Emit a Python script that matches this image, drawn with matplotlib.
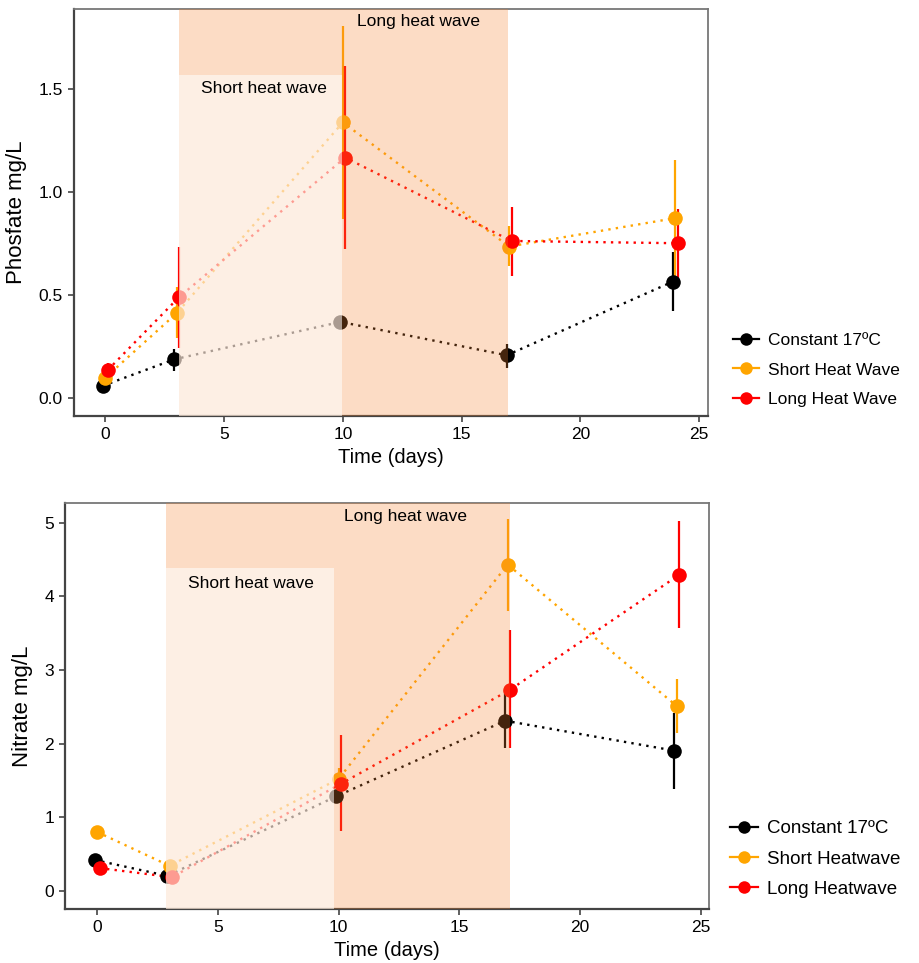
import matplotlib
matplotlib.use("Agg")
import matplotlib.pyplot as plt
from matplotlib.lines import Line2D
from matplotlib.patches import Rectangle
import numpy as np

# ---------------- data ----------------
times = [0, 3, 10, 17, 24]

series_names_p = ["Constant 17ºC", "Short Heat Wave", "Long Heat Wave"]
series_names_n = ["Constant 17ºC", "Short Heatwave", "Long Heatwave"]
colors = ["#000000", "#FFA500", "#FF0000"]

# Phosphate (mean, lower, upper)
phos_const = [0.058, 0.186, 0.368, 0.206, 0.564]
phos_const_lo = [0.045, 0.131, 0.360, 0.146, 0.423]
phos_const_hi = [0.072, 0.237, 0.376, 0.261, 0.705]

phos_short = [0.097, 0.410, 1.337, 0.734, 0.872]
phos_short_lo = [0.080, 0.288, 0.870, 0.641, 0.590]
phos_short_hi = [0.115, 0.536, 1.803, 0.834, 1.153]

phos_long = [0.134, 0.488, 1.166, 0.761, 0.750]
phos_long_lo = [0.100, 0.243, 0.720, 0.591, 0.580]
phos_long_hi = [0.170, 0.730, 1.613, 0.927, 0.917]

# Nitrate (mean, lower, upper)
nit_const = [0.420, 0.204, 1.283, 2.310, 1.904]
nit_const_lo = [0.380, 0.170, 1.200, 1.940, 1.380]
nit_const_hi = [0.460, 0.240, 1.360, 2.730, 2.420]

nit_short = [0.800, 0.340, 1.520, 4.430, 2.510]
nit_short_lo = [0.770, 0.300, 1.370, 3.800, 2.150]
nit_short_hi = [0.830, 0.380, 1.670, 5.050, 2.870]

nit_long = [0.310, 0.186, 1.455, 2.730, 4.290]
nit_long_lo = [0.280, 0.150, 0.810, 1.940, 3.570]
nit_long_hi = [0.340, 0.220, 2.120, 3.540, 5.020]

# heat-wave windows
short_wave_p = (3.08, 9.97)
long_wave_p = (3.08, 16.95)
short_wave_n = (2.87, 9.82)
long_wave_n = (2.87, 17.1)

x_ticks = [0, 5, 10, 15, 20, 25]
p_yticks = [0.0, 0.5, 1.0, 1.5]
p_yticklabels = ["0.0", "0.5", "1.0", "1.5"]
n_yticks = [0, 1, 2, 3, 4, 5]

# ---------------- style ----------------
narrow = ["Liberation Sans Narrow", "Liberation Sans", "DejaVu Sans"]
sans = ["Liberation Sans", "DejaVu Sans"]

fig = plt.figure(figsize=(9.2, 9.63), dpi=100)

ax1 = fig.add_axes([74/920, 1 - 416/963, (707.7 - 74)/920, (416 - 9.3)/963])
ax2 = fig.add_axes([65/920, 1 - 909.3/963, (709.3 - 65)/920, (909.3 - 502.7)/963])

offsets = [-0.1, 0.0, 0.1]
long_col = (245/255, 130/255, 48/255)


def panel(ax, data, xlim, ylim, short_w, long_w, short_top, yticks, yticklabels,
          ylabel, long_txt, short_txt):
    for (mean, lo, hi), col, off in zip(data, colors, offsets):
        x = np.array(times, dtype=float) + off
        mean = np.array(mean)
        yerr = [mean - np.array(lo), np.array(hi) - mean]
        ax.plot(x, mean, linestyle=(0, (1, 2.2)), color=col, lw=1.7, zorder=2)
        ax.errorbar(x, mean, yerr=yerr, fmt="none", ecolor=col, elinewidth=1.6,
                    capsize=0, zorder=3)
        ax.plot(x, mean, "o", color=col, markersize=10.5, zorder=4, mec="none")
    # heat-wave rectangles (drawn over the points, translucent)
    ax.add_patch(Rectangle((long_w[0], ylim[0]), long_w[1] - long_w[0], ylim[1] - ylim[0],
                           facecolor=long_col, alpha=0.28, edgecolor="none", zorder=5))
    ax.add_patch(Rectangle((short_w[0], ylim[0]), short_w[1] - short_w[0], short_top - ylim[0],
                           facecolor="white", alpha=0.55, edgecolor="none", zorder=6))
    ax.text(*long_txt[0], long_txt[1], ha="center", va="center", fontsize=12.5,
            family=narrow, zorder=7)
    ax.text(*short_txt[0], short_txt[1], ha="center", va="center", fontsize=12.5,
            family=narrow, zorder=7)

    ax.set_xlim(*xlim)
    ax.set_ylim(*ylim)
    ax.set_xticks(x_ticks)
    ax.set_xticklabels([str(t) for t in x_ticks], family=narrow, fontsize=12.5)
    ax.set_yticks(yticks)
    ax.set_yticklabels(yticklabels, family=narrow, fontsize=12.5)
    ax.tick_params(direction="out", length=4, width=1.2, color="#444444", pad=4)
    for s in ["top", "right"]:
        ax.spines[s].set_color("#777777")
        ax.spines[s].set_linewidth(1.3)
    for s in ["left", "bottom"]:
        ax.spines[s].set_color("#444444")
        ax.spines[s].set_linewidth(1.6)
    ax.set_xlabel("Time (days)", family=sans, fontsize=14.5, labelpad=4)
    ax.set_ylabel(ylabel, family=sans, fontsize=16, labelpad=8)


panel(ax1,
      [(phos_const, phos_const_lo, phos_const_hi),
       (phos_short, phos_short_lo, phos_short_hi),
       (phos_long, phos_long_lo, phos_long_hi)],
      (-1.32, 25.36), (-0.089, 1.886), short_wave_p, long_wave_p, 1.565,
      p_yticks, p_yticklabels, "Phosfate mg/L",
      ((13.2, 1.827), "Long heat wave"), ((6.68, 1.503), "Short heat wave"))

panel(ax2,
      [(nit_const, nit_const_lo, nit_const_hi),
       (nit_short, nit_short_lo, nit_short_hi),
       (nit_long, nit_long_lo, nit_long_hi)],
      (-1.33, 25.35), (-0.25, 5.27), short_wave_n, long_wave_n, 4.38,
      n_yticks, [str(t) for t in n_yticks], "Nitrate mg/L",
      ((12.77, 5.08), "Long heat wave"), ((6.35, 4.17), "Short heat wave"))


def legend(names, y, fs, x, spacing):
    handles = [Line2D([0], [0], color=c, lw=1.6, marker="o", markersize=9, mec="none")
               for c in colors]
    fig.legend(handles, names, loc="center left", bbox_to_anchor=(x, y),
               frameon=False, prop={"family": sans, "size": fs},
               handlelength=1.5, handletextpad=0.5, labelspacing=spacing,
               borderpad=0, borderaxespad=0)


legend(series_names_p, 1 - 370/963, 12.5, 733/920, 0.85)
legend(series_names_n, 1 - 859/963, 13.5, 730/920, 0.7)

fig.savefig("out.png", dpi=100)
